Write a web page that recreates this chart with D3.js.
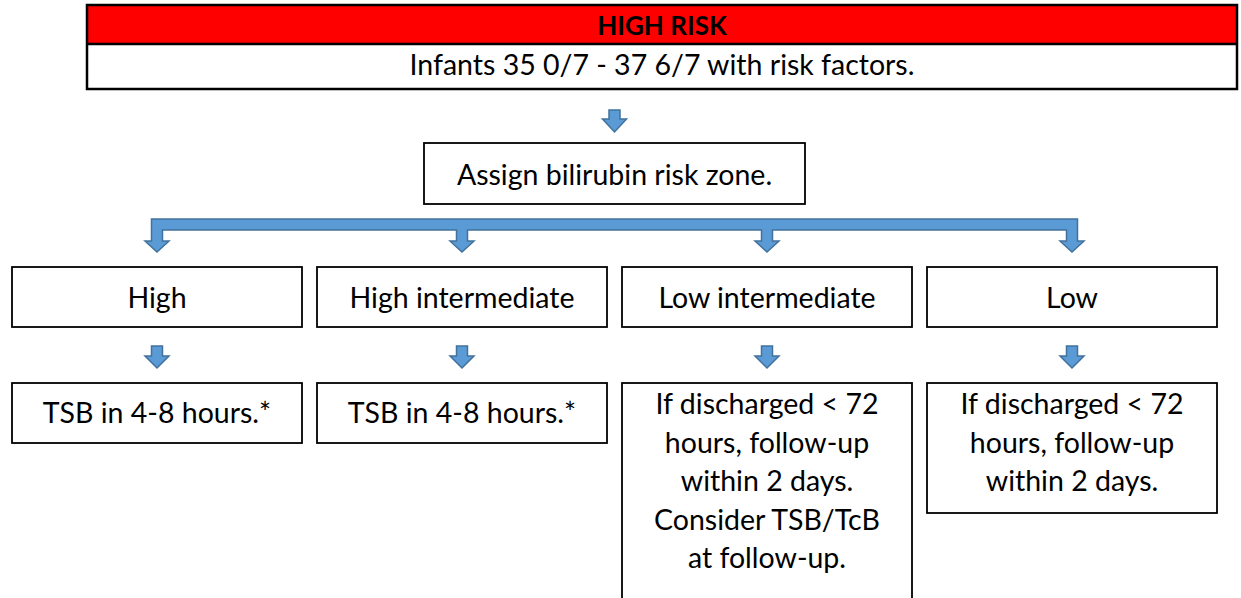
<!DOCTYPE html>
<html>
<head>
<meta charset="utf-8">
<script src="https://cdn.jsdelivr.net/npm/d3@7"></script>
<style>
  html, body { margin: 0; padding: 0; background: #fff; }
  svg text { font-family: Lato, "Open Sans", sans-serif; fill: #000; }
</style>
</head>
<body>
<svg id="chart" width="1241" height="598"></svg>
<script>
// ---- data ----
const headerTitle = "HIGH RISK";
const headerSubtitle = "Infants 35 0/7 - 37 6/7 with risk factors.";
const stepText = "Assign bilirubin risk zone.";
const zones = ["High", "High intermediate", "Low intermediate", "Low"];
const actions = [
  ["TSB in 4-8 hours.*"],
  ["TSB in 4-8 hours.*"],
  ["If discharged < 72", "hours, follow-up", "within 2 days.", "Consider TSB/TcB", "at follow-up."],
  ["If discharged < 72", "hours, follow-up", "within 2 days."]
];

// ---- layout ----
const svg = d3.select("#chart");
const FS = 28.5;
const LINE = 38.5;
const ARROW_FILL = "#5b9bd5", ARROW_STROKE = "#41719c";

const x = d3.scaleBand().domain(zones).range([12, 1217]).paddingInner(15 / 305).paddingOuter(0);
const cx = d => x(d) + x.bandwidth() / 2;

// header box
const hdr = { x0: 87, x1: 1237, y0: 5, ymid: 44, y1: 89 };
svg.append("rect").attr("x", hdr.x0).attr("y", hdr.y0).attr("width", hdr.x1 - hdr.x0).attr("height", hdr.ymid - hdr.y0)
  .attr("fill", "#ff0000");
svg.append("rect").attr("x", hdr.x0).attr("y", hdr.y0).attr("width", hdr.x1 - hdr.x0).attr("height", hdr.y1 - hdr.y0)
  .attr("fill", "none").attr("stroke", "#000").attr("stroke-width", 2.5);
svg.append("line").attr("x1", hdr.x0).attr("x2", hdr.x1).attr("y1", hdr.ymid).attr("y2", hdr.ymid)
  .attr("stroke", "#000").attr("stroke-width", 2.5);
svg.append("text").attr("x", (hdr.x0 + hdr.x1) / 2).attr("y", 35).attr("text-anchor", "middle")
  .attr("font-size", 26).attr("font-weight", "bold").text(headerTitle);
svg.append("text").attr("x", (hdr.x0 + hdr.x1) / 2).attr("y", 75).attr("text-anchor", "middle")
  .attr("font-size", FS).text(headerSubtitle);

// down arrow generator
function downArrow(cxv, yTop, yTip, headH) {
  const sw = 5.5, hw = 12;
  const yh = yTip - headH;
  return `M${cxv - sw},${yTop}L${cxv + sw},${yTop}L${cxv + sw},${yh}L${cxv + hw},${yh}L${cxv},${yTip}L${cxv - hw},${yh}L${cxv - sw},${yh}Z`;
}
function drawPath(d) {
  svg.append("path").attr("d", d).attr("fill", ARROW_FILL).attr("stroke", ARROW_STROKE)
    .attr("stroke-width", 1.5).attr("stroke-linejoin", "miter");
}

// arrow from header to step
drawPath(downArrow(614.5, 110, 132, 13));

// step box
const step = { x0: 424, x1: 805, y0: 143, y1: 204 };
svg.append("rect").attr("x", step.x0).attr("y", step.y0).attr("width", step.x1 - step.x0).attr("height", step.y1 - step.y0)
  .attr("fill", "#fff").attr("stroke", "#000").attr("stroke-width", 1.8);
svg.append("text").attr("x", (step.x0 + step.x1) / 2).attr("y", 185).attr("text-anchor", "middle")
  .attr("font-size", FS).text(stepText);

// bracket connector (bar + four drops), built as one outline
(function () {
  const sw = 5.5, hw = 12, barTop = 219, barBot = 230, tip = 252, yh = 241;
  const cs = zones.map(cx);
  const first = cs[0], last = cs[cs.length - 1];
  let d = `M${first - sw},${barTop}L${last + sw},${barTop}`;
  for (let i = cs.length - 1; i >= 0; i--) {
    const c = cs[i];
    if (i !== cs.length - 1) d += `L${c + sw},${barBot}`;
    d += `L${c + sw},${yh}L${c + hw},${yh}L${c},${tip}L${c - hw},${yh}L${c - sw},${yh}`;
    if (i !== 0) d += `L${c - sw},${barBot}`;
  }
  d += "Z";
  drawPath(d);
})();

// zone boxes
const row1 = { y0: 267, y1: 327 };
const zg = svg.append("g").selectAll("g").data(zones).join("g");
zg.append("rect").attr("x", d => x(d)).attr("y", row1.y0).attr("width", x.bandwidth()).attr("height", row1.y1 - row1.y0)
  .attr("fill", "#fff").attr("stroke", "#000").attr("stroke-width", 1.8);
zg.append("text").attr("x", cx).attr("y", 308).attr("text-anchor", "middle").attr("font-size", FS).text(d => d);

// arrows between rows
zones.forEach(z => drawPath(downArrow(cx(z), 346, 368, 12)));

// action boxes
const row2Top = 383;
const boxH = [60, 60, 230, 130];
const ag = svg.append("g").selectAll("g").data(zones).join("g");
ag.append("rect").attr("x", d => x(d)).attr("y", row2Top).attr("width", x.bandwidth())
  .attr("height", (d, i) => boxH[i])
  .attr("fill", "#fff").attr("stroke", "#000").attr("stroke-width", 1.8);
ag.each(function (d, i) {
  const lines = actions[i];
  const base = lines.length === 1 ? 423 : 414;
  d3.select(this).selectAll("text").data(lines).join("text")
    .attr("x", cx(d)).attr("y", (t, j) => base + j * LINE)
    .attr("text-anchor", "middle").attr("font-size", FS).text(t => t);
});
</script>
</body>
</html>
